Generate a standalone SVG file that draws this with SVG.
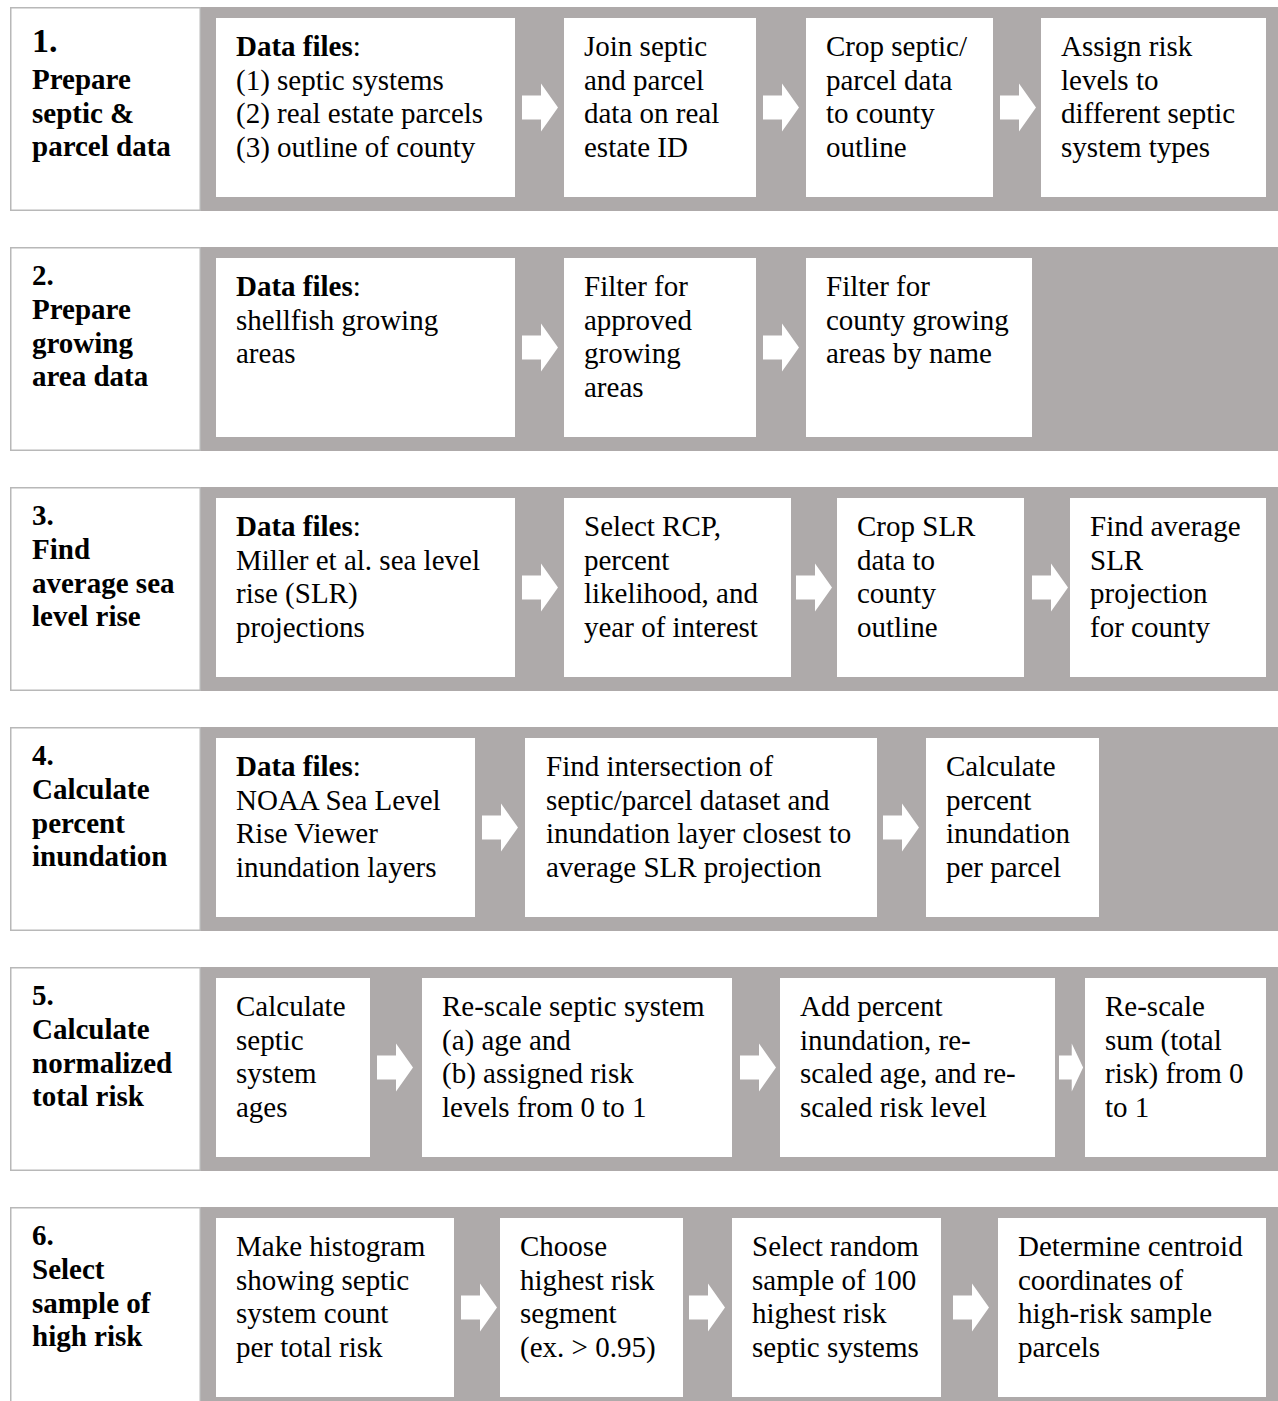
<svg xmlns="http://www.w3.org/2000/svg" xmlns:xlink="http://www.w3.org/1999/xlink" width="1278" height="1401" viewBox="0 0 1278 1401" font-family="'Liberation Serif', 'Times New Roman', Tinos, serif">
<style>
.band{fill:#aeaaaa}
.lab{fill:#ffffff;stroke:#b8b8b8;stroke-width:1.5}
.box{fill:#ffffff}
.t{font-family:"Liberation Serif","Times New Roman",Tinos,serif;font-size:29px;fill:#000}
.b{font-weight:bold}
.big{font-size:34px}
.arr{fill:#ffffff}
</style>
<defs>
<path id="arrow" d="M0,-12 H19 V-24 L36,0 L19,24 V12 H0 Z"/>
</defs>
<rect width="1278" height="1401" fill="#ffffff"/>

<!-- Row 1 -->
<g id="row1">
<rect class="band" x="200" y="7" width="1078" height="204"/>
<g id="label1"><rect class="lab" x="10.75" y="7.75" width="189.5" height="202.5"/>
<text class="t b"><tspan class="big" x="32" y="52">1.</tspan><tspan x="32" y="89">Prepare</tspan><tspan x="32" y="122.5">septic &amp;</tspan><tspan x="32" y="156">parcel data</tspan></text></g>
<g id="n1a"><rect class="box" x="216" y="18" width="299" height="179"/>
<text class="t"><tspan x="236" y="56"><tspan class="b">Data files</tspan>:</tspan><tspan x="236" y="89.5">(1) septic systems</tspan><tspan x="236" y="123">(2) real estate parcels</tspan><tspan x="236" y="156.5">(3) outline of county</tspan></text></g>
<g id="n1b"><rect class="box" x="564" y="18" width="192" height="179"/>
<text class="t"><tspan x="584" y="56">Join septic</tspan><tspan x="584" y="89.5">and parcel</tspan><tspan x="584" y="123">data on real</tspan><tspan x="584" y="156.5">estate ID</tspan></text></g>
<g id="n1c"><rect class="box" x="806" y="18" width="187" height="179"/>
<text class="t"><tspan x="826" y="56">Crop septic/</tspan><tspan x="826" y="89.5">parcel data</tspan><tspan x="826" y="123">to county</tspan><tspan x="826" y="156.5">outline</tspan></text></g>
<g id="n1d"><rect class="box" x="1041" y="18" width="225" height="179"/>
<text class="t"><tspan x="1061" y="56">Assign risk</tspan><tspan x="1061" y="89.5">levels to</tspan><tspan x="1061" y="123">different septic</tspan><tspan x="1061" y="156.5">system types</tspan></text></g>
</g>

<!-- Row 2 -->
<g id="row2">
<rect class="band" x="200" y="247" width="1078" height="204"/>
<g id="label2"><rect class="lab" x="10.75" y="247.75" width="189.5" height="202.5"/>
<text class="t b"><tspan x="32" y="285">2.</tspan><tspan x="32" y="319">Prepare</tspan><tspan x="32" y="352.5">growing</tspan><tspan x="32" y="386">area data</tspan></text></g>
<g id="n2a"><rect class="box" x="216" y="258" width="299" height="179"/>
<text class="t"><tspan x="236" y="296"><tspan class="b">Data files</tspan>:</tspan><tspan x="236" y="329.5">shellfish growing</tspan><tspan x="236" y="363">areas</tspan></text></g>
<g id="n2b"><rect class="box" x="564" y="258" width="192" height="179"/>
<text class="t"><tspan x="584" y="296">Filter for</tspan><tspan x="584" y="329.5">approved</tspan><tspan x="584" y="363">growing</tspan><tspan x="584" y="396.5">areas</tspan></text></g>
<g id="n2c"><rect class="box" x="806" y="258" width="226" height="179"/>
<text class="t"><tspan x="826" y="296">Filter for</tspan><tspan x="826" y="329.5">county growing</tspan><tspan x="826" y="363">areas by name</tspan></text></g>
</g>

<!-- Row 3 -->
<g id="row3">
<rect class="band" x="200" y="487" width="1078" height="204"/>
<g id="label3"><rect class="lab" x="10.75" y="487.75" width="189.5" height="202.5"/>
<text class="t b"><tspan x="32" y="525">3.</tspan><tspan x="32" y="559">Find</tspan><tspan x="32" y="592.5">average sea</tspan><tspan x="32" y="626">level rise</tspan></text></g>
<g id="n3a"><rect class="box" x="216" y="498" width="299" height="179"/>
<text class="t"><tspan x="236" y="536"><tspan class="b">Data files</tspan>:</tspan><tspan x="236" y="569.5">Miller et al. sea level</tspan><tspan x="236" y="603">rise (SLR)</tspan><tspan x="236" y="636.5">projections</tspan></text></g>
<g id="n3b"><rect class="box" x="564" y="498" width="227" height="179"/>
<text class="t"><tspan x="584" y="536">Select RCP,</tspan><tspan x="584" y="569.5">percent</tspan><tspan x="584" y="603">likelihood, and</tspan><tspan x="584" y="636.5">year of interest</tspan></text></g>
<g id="n3c"><rect class="box" x="837" y="498" width="187" height="179"/>
<text class="t"><tspan x="857" y="536">Crop SLR</tspan><tspan x="857" y="569.5">data to</tspan><tspan x="857" y="603">county</tspan><tspan x="857" y="636.5">outline</tspan></text></g>
<g id="n3d"><rect class="box" x="1070" y="498" width="196" height="179"/>
<text class="t"><tspan x="1090" y="536">Find average</tspan><tspan x="1090" y="569.5">SLR</tspan><tspan x="1090" y="603">projection</tspan><tspan x="1090" y="636.5">for county</tspan></text></g>
</g>

<!-- Row 4 -->
<g id="row4">
<rect class="band" x="200" y="727" width="1078" height="204"/>
<g id="label4"><rect class="lab" x="10.75" y="727.75" width="189.5" height="202.5"/>
<text class="t b"><tspan x="32" y="765">4.</tspan><tspan x="32" y="799">Calculate</tspan><tspan x="32" y="832.5">percent</tspan><tspan x="32" y="866">inundation</tspan></text></g>
<g id="n4a"><rect class="box" x="216" y="738" width="259" height="179"/>
<text class="t"><tspan x="236" y="776"><tspan class="b">Data files</tspan>:</tspan><tspan x="236" y="809.5">NOAA Sea Level</tspan><tspan x="236" y="843">Rise Viewer</tspan><tspan x="236" y="876.5">inundation layers</tspan></text></g>
<g id="n4b"><rect class="box" x="525" y="738" width="352" height="179"/>
<text class="t"><tspan x="546" y="776">Find intersection of</tspan><tspan x="546" y="809.5">septic/parcel dataset and</tspan><tspan x="546" y="843">inundation layer closest to</tspan><tspan x="546" y="876.5">average SLR projection</tspan></text></g>
<g id="n4c"><rect class="box" x="926" y="738" width="173" height="179"/>
<text class="t"><tspan x="946" y="776">Calculate</tspan><tspan x="946" y="809.5">percent</tspan><tspan x="946" y="843">inundation</tspan><tspan x="946" y="876.5">per parcel</tspan></text></g>
</g>

<!-- Row 5 -->
<g id="row5">
<rect class="band" x="200" y="967" width="1078" height="204"/>
<g id="label5"><rect class="lab" x="10.75" y="967.75" width="189.5" height="202.5"/>
<text class="t b"><tspan x="32" y="1005">5.</tspan><tspan x="32" y="1039">Calculate</tspan><tspan x="32" y="1072.5">normalized</tspan><tspan x="32" y="1106">total risk</tspan></text></g>
<g id="n5a"><rect class="box" x="216" y="978" width="154" height="179"/>
<text class="t"><tspan x="236" y="1016">Calculate</tspan><tspan x="236" y="1049.5">septic</tspan><tspan x="236" y="1083">system</tspan><tspan x="236" y="1116.5">ages</tspan></text></g>
<g id="n5b"><rect class="box" x="422" y="978" width="310" height="179"/>
<text class="t"><tspan x="442" y="1016">Re-scale septic system</tspan><tspan x="442" y="1049.5">(a) age and</tspan><tspan x="442" y="1083">(b) assigned risk</tspan><tspan x="442" y="1116.5">levels from 0 to 1</tspan></text></g>
<g id="n5c"><rect class="box" x="780" y="978" width="275" height="179"/>
<text class="t"><tspan x="800" y="1016">Add percent</tspan><tspan x="800" y="1049.5">inundation, re-</tspan><tspan x="800" y="1083">scaled age, and re-</tspan><tspan x="800" y="1116.5">scaled risk level</tspan></text></g>
<g id="n5d"><rect class="box" x="1085" y="978" width="181" height="179"/>
<text class="t"><tspan x="1105" y="1016">Re-scale</tspan><tspan x="1105" y="1049.5">sum (total</tspan><tspan x="1105" y="1083">risk) from 0</tspan><tspan x="1105" y="1116.5">to 1</tspan></text></g>
</g>

<!-- Row 6 -->
<g id="row6">
<rect class="band" x="200" y="1207" width="1078" height="194"/>
<g id="label6"><rect class="lab" x="10.75" y="1207.75" width="189.5" height="200"/>
<text class="t b"><tspan x="32" y="1245">6.</tspan><tspan x="32" y="1279">Select</tspan><tspan x="32" y="1312.5">sample of</tspan><tspan x="32" y="1346">high risk</tspan></text></g>
<g id="n6a"><rect class="box" x="216" y="1218" width="238" height="179"/>
<text class="t"><tspan x="236" y="1256">Make histogram</tspan><tspan x="236" y="1289.5">showing septic</tspan><tspan x="236" y="1323">system count</tspan><tspan x="236" y="1356.5">per total risk</tspan></text></g>
<g id="n6b"><rect class="box" x="500" y="1218" width="183" height="179"/>
<text class="t"><tspan x="520" y="1256">Choose</tspan><tspan x="520" y="1289.5">highest risk</tspan><tspan x="520" y="1323">segment</tspan><tspan x="520" y="1356.5">(ex. &gt; 0.95)</tspan></text></g>
<g id="n6c"><rect class="box" x="732" y="1218" width="209" height="179"/>
<text class="t"><tspan x="752" y="1256">Select random</tspan><tspan x="752" y="1289.5">sample of 100</tspan><tspan x="752" y="1323">highest risk</tspan><tspan x="752" y="1356.5">septic systems</tspan></text></g>
<g id="n6d"><rect class="box" x="998" y="1218" width="268" height="179"/>
<text class="t"><tspan x="1018" y="1256">Determine centroid</tspan><tspan x="1018" y="1289.5">coordinates of</tspan><tspan x="1018" y="1323">high-risk sample</tspan><tspan x="1018" y="1356.5">parcels</tspan></text></g>
</g>

<!-- Connectors -->
<g id="connectors" class="arr">
<use xlink:href="#arrow" transform="translate(522,107.5)"/>
<use xlink:href="#arrow" transform="translate(763,107.5)"/>
<use xlink:href="#arrow" transform="translate(1000,107.5)"/>
<use xlink:href="#arrow" transform="translate(522,347.5)"/>
<use xlink:href="#arrow" transform="translate(763,347.5)"/>
<use xlink:href="#arrow" transform="translate(522,587.5)"/>
<use xlink:href="#arrow" transform="translate(796,587.5)"/>
<use xlink:href="#arrow" transform="translate(1032,587.5)"/>
<use xlink:href="#arrow" transform="translate(482,827.5)"/>
<use xlink:href="#arrow" transform="translate(883,827.5)"/>
<use xlink:href="#arrow" transform="translate(377,1067.5)"/>
<use xlink:href="#arrow" transform="translate(740,1067.5)"/>
<use xlink:href="#arrow" transform="translate(1059,1067.5) scale(0.67,1)"/>
<use xlink:href="#arrow" transform="translate(461,1307.5)"/>
<use xlink:href="#arrow" transform="translate(689,1307.5)"/>
<use xlink:href="#arrow" transform="translate(953,1307.5)"/>
</g>
</svg>
